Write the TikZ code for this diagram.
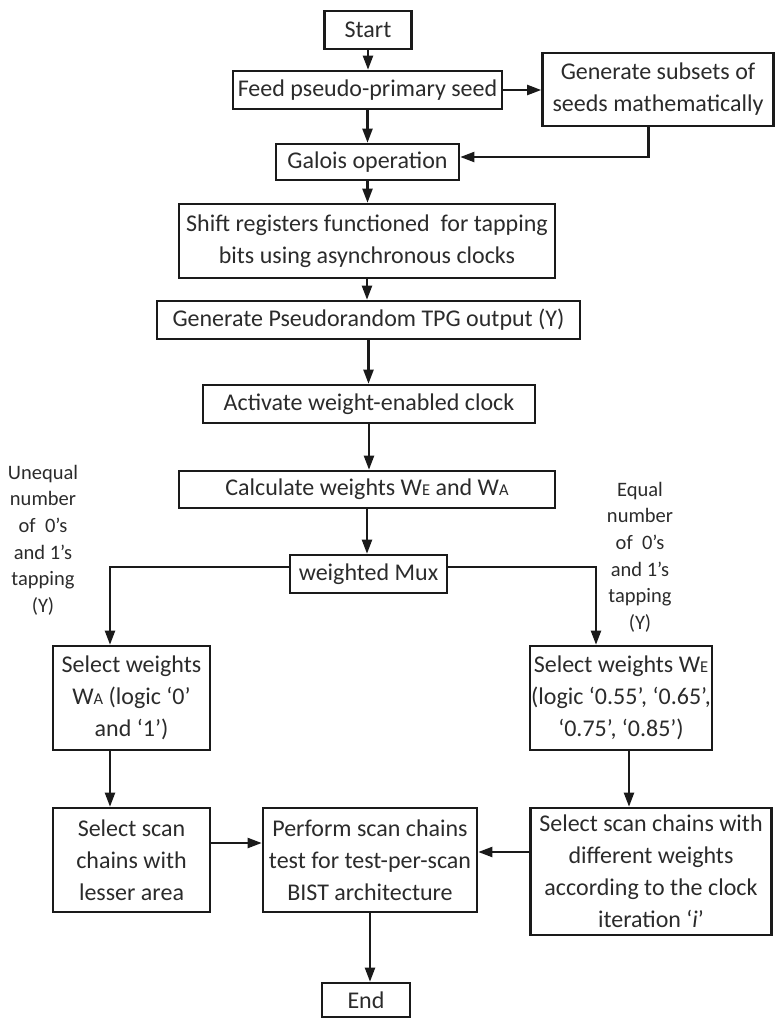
\documentclass[tikz,border=0pt]{standalone}
\usepackage{fontspec}
\setmainfont{Carlito}
\usetikzlibrary{arrows.meta}
\newcommand{\smc}[1]{{\fontsize{16.5}{16.5}\selectfont #1}}
\definecolor{txt}{HTML}{2B2B2B}
\definecolor{lin}{HTML}{1A1A1A}
\begin{document}
\begin{tikzpicture}[x=1pt,y=-1pt,
  box/.style={draw=lin, line width=2.6pt, inner sep=0pt, align=center,
    font=\fontsize{24}{32}\selectfont, text=txt},
  lbl/.style={inner sep=0pt, align=center, font=\fontsize{20.5}{26.6}\selectfont, text=txt},
  arr/.style={line width=2.1pt, draw=lin, -{Triangle[length=14pt,width=10pt]}}]
\useasboundingbox (0,0) rectangle (777,1018);
\node[box, minimum width=87pt, minimum height=38pt] (start) at (368,30) {Start};
\node[box, minimum width=269pt, minimum height=38pt] (feed) at (367.5,90) {Feed pseudo-primary seed};
\node[box, minimum width=231pt, minimum height=73pt] (gen) at (658,89.5) {Generate subsets of\\seeds mathematically};
\node[box, minimum width=183pt, minimum height=36pt] (galois) at (367.5,162) {Galois operation};
\node[box, minimum width=376pt, minimum height=74pt] (shift) at (367,241) {Shift registers functioned\ \ for tapping\\bits using asynchronous clocks};
\node[box, minimum width=423pt, minimum height=38pt] (pseudo) at (368.5,320) {Generate Pseudorandom TPG output (Y)};
\node[box, minimum width=332pt, minimum height=38pt] (act) at (369,404) {Activate weight-enabled clock};
\node[box, minimum width=376pt, minimum height=37pt] (calc) at (367,489.5) {Calculate weights W\smc{E} and W\smc{A}};
\node[box, minimum width=157pt, minimum height=38pt] (mux) at (368.5,574) {weighted Mux};
\node[box, minimum width=157pt, minimum height=104pt] (selA) at (131.5,698) {Select weights\\W\smc{A} (logic ‘0’\\and ‘1’)};
\node[box, minimum width=182pt, minimum height=104pt] (selE) at (621,698) {Select weights W\smc{E}\\(logic ‘0.55’, ‘0.65’,\\‘0.75’, ‘0.85’)};
\node[box, minimum width=157pt, minimum height=104pt] (scanL) at (131.5,860) {Select scan\\chains with\\lesser area};
\node[box, minimum width=214pt, minimum height=104pt] (perf) at (370,860) {Perform scan chains\\test for test-per-scan\\BIST architecture};
\node[box, minimum width=241pt, minimum height=127pt] (scanR) at (651,871.5) {Select scan chains with\\different weights\\according to the clock\\iteration ‘\textit{i}’};
\node[box, minimum width=88pt, minimum height=34pt] (end) at (366,1000) {End};
\node[lbl] (ul) at (43,540) {Unequal\\number\\of\ \ 0's\\and 1's\\tapping\\(Y)};
\node[lbl] (el) at (640,557) {Equal\\number\\of\ \ 0's\\and 1's\\tapping\\(Y)};
\draw[arr] (start.south) -- (start.south |- feed.north);
\draw[arr] (feed.east) -- (feed.east -| gen.west);
\draw[arr] (feed.south) -- (feed.south |- galois.north);
\draw[arr] ([xshift=-9.5pt]gen.south) |- ([yshift=5pt]galois.east);
\draw[arr] (galois.south) -- (galois.south |- shift.north);
\draw[arr] (shift.south) -- (shift.south |- pseudo.north);
\draw[arr] (pseudo.south) -- (pseudo.south |- act.north);
\draw[arr] (act.south) -- (act.south |- calc.north);
\draw[arr] (calc.south) -- (calc.south |- mux.north);
\draw[arr] ([yshift=7pt]mux.west) -| ([xshift=-21.5pt]selA.north);
\draw[arr] ([yshift=7pt]mux.east) -| ([xshift=-25pt]selE.north);
\draw[arr] ([xshift=-21.5pt]selA.south) -- ([xshift=-21.5pt]scanL.north);
\draw[arr] ([xshift=8pt]selE.south) -- ([xshift=8pt]selE.south |- scanR.north);
\draw[arr] ([yshift=17pt]scanL.east) -- ([yshift=17pt]scanL.east -| perf.west);
\draw[arr] ([yshift=8pt]perf.east -| scanR.west) -- ([yshift=8pt]perf.east);
\draw[arr] (perf.south) -- (perf.south |- end.north);
\end{tikzpicture}
\end{document}
